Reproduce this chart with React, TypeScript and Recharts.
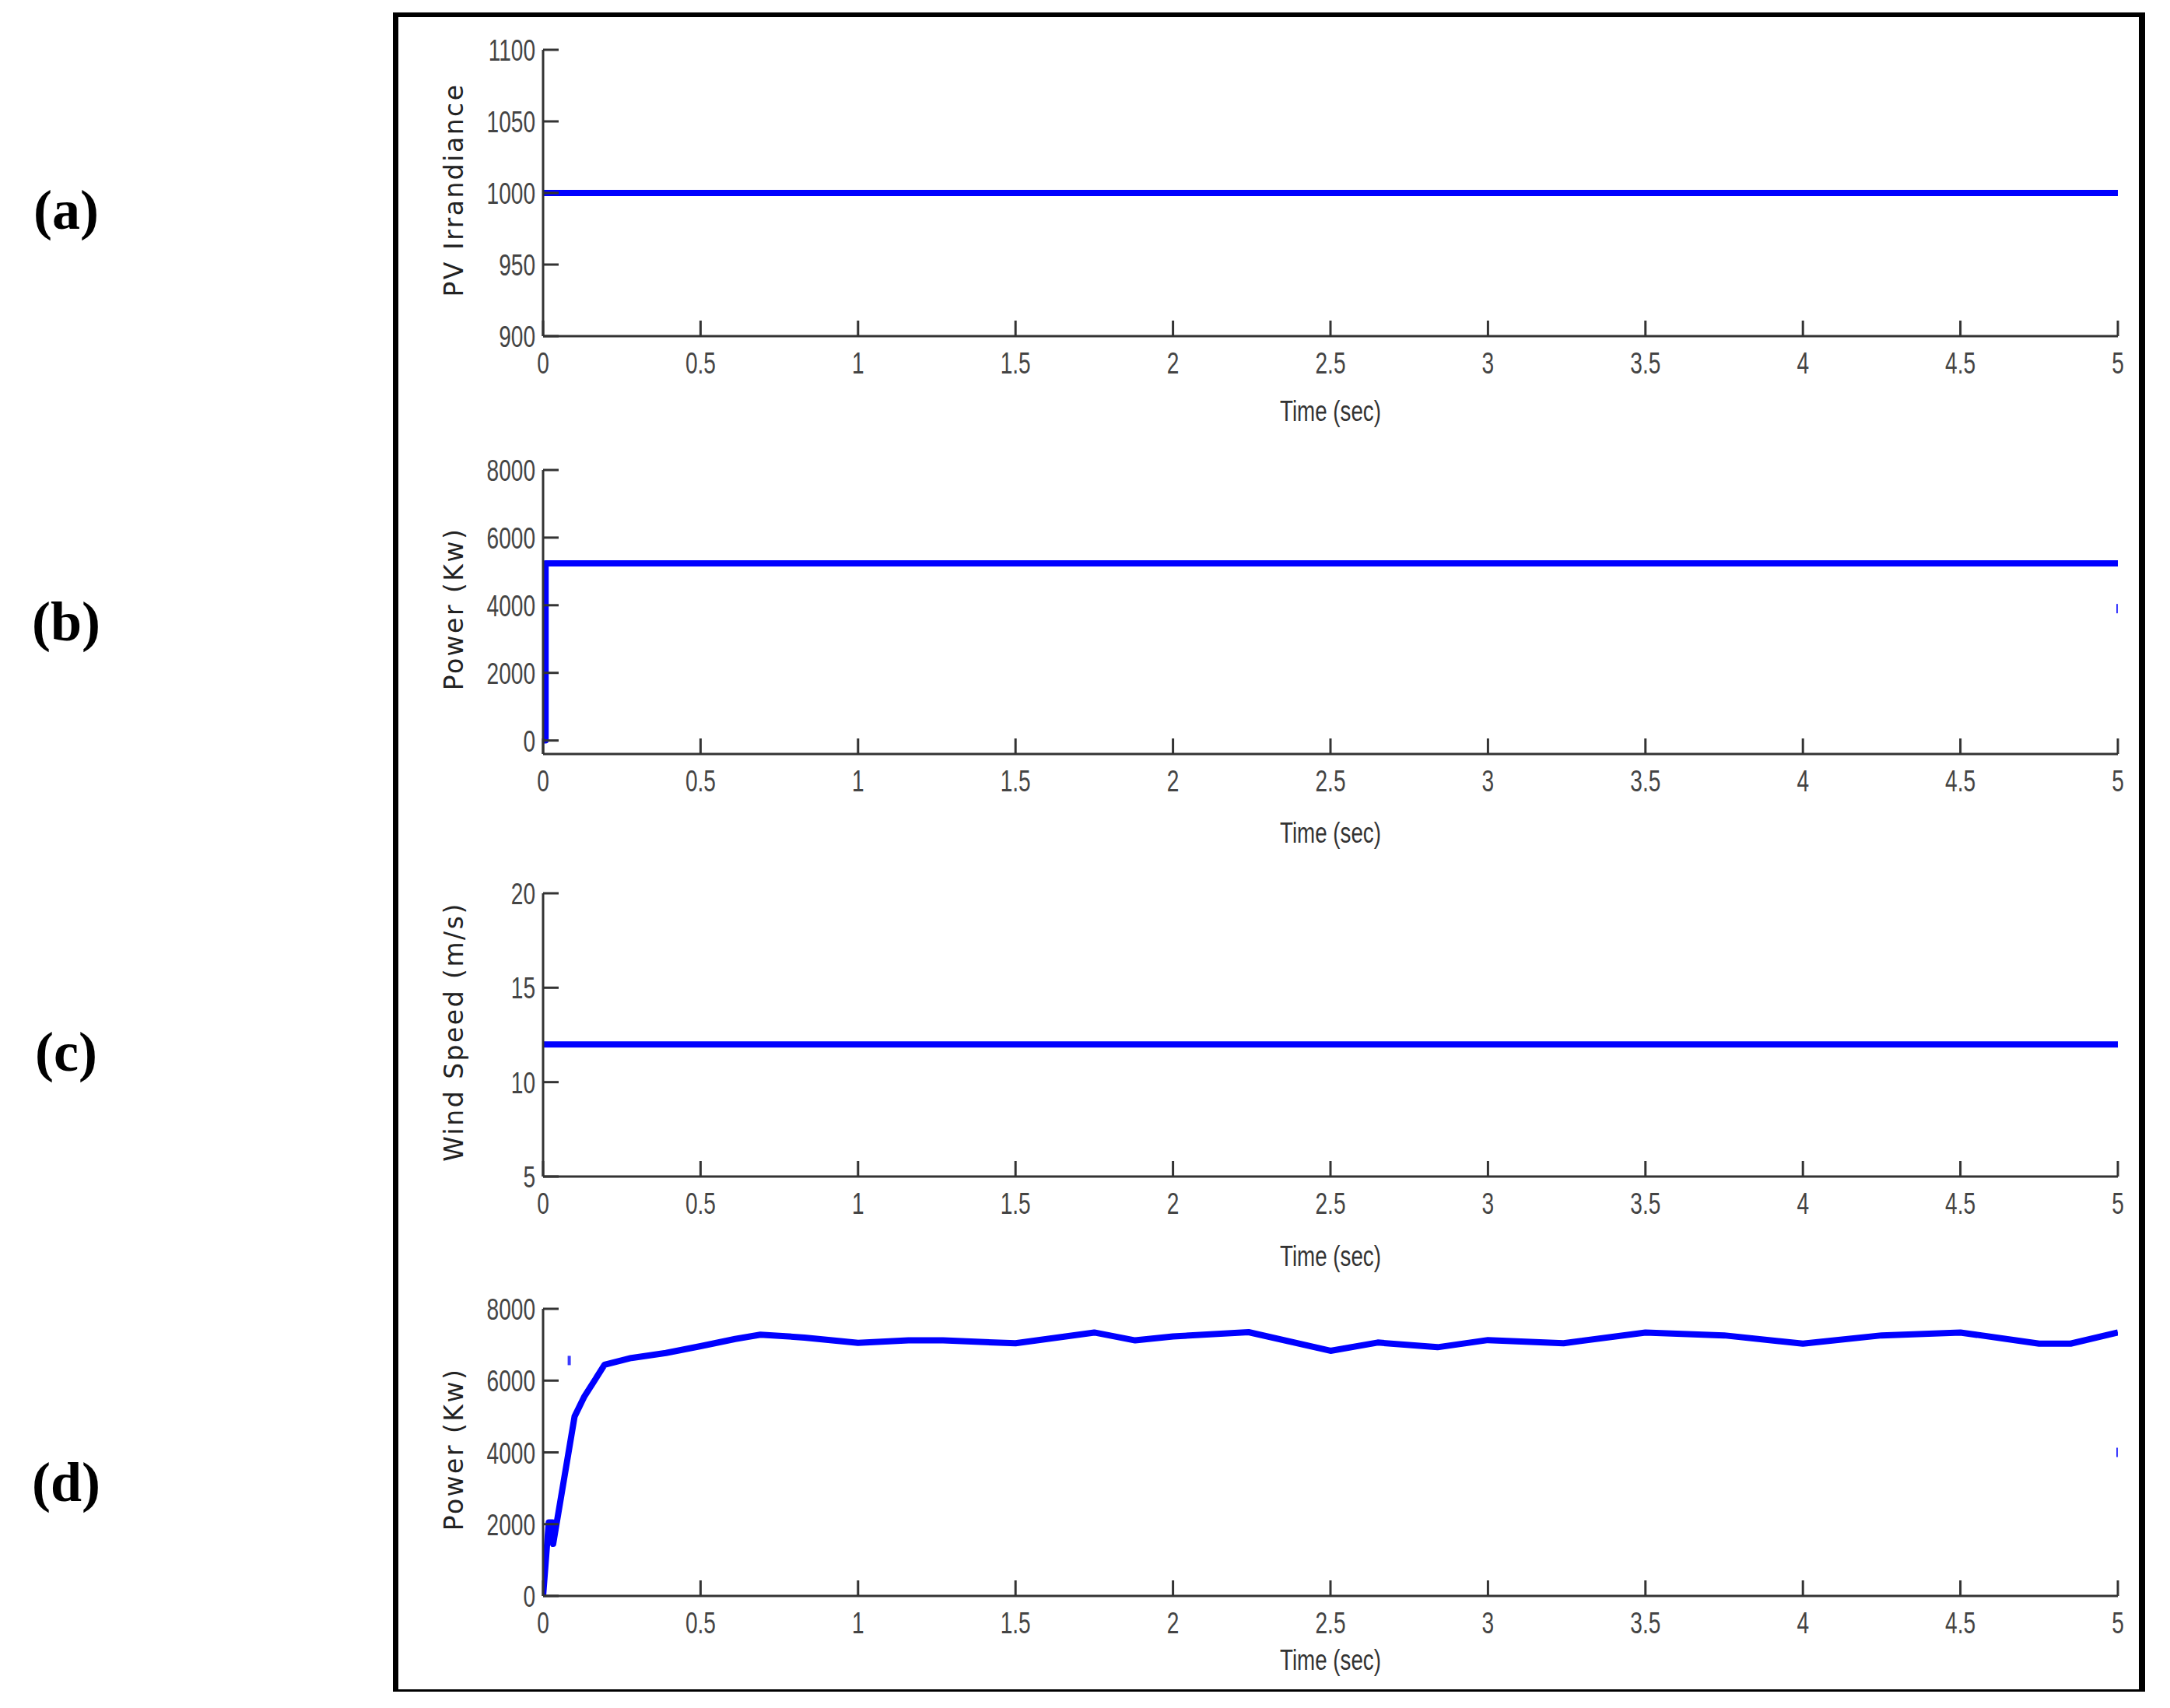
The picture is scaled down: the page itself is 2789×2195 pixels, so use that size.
import { ComposedChart, Line, Scatter, XAxis, YAxis, Label } from "recharts";

// time axis shared by all four panels
const TIME_TICKS = [0, 0.5, 1, 1.5, 2, 2.5, 3, 3.5, 4, 4.5, 5];

// (a) PV irradiance
const irradianceData = [
  { t: 0, v: 1000 },
  { t: 5, v: 1000 },
];
const irradianceTicks = [900, 950, 1000, 1050, 1100];

// (b) PV power
const pvPowerData = [
  { t: 0, v: 0 },
  { t: 0.008, v: 0 },
  { t: 0.008, v: 5240 },
  { t: 5, v: 5240 },
];
const pvPowerStray = [{ t: 5, v: 3900 }];
const powerTicks = [0, 2000, 4000, 6000, 8000];

// (c) wind speed
const windSpeedData = [
  { t: 0, v: 12 },
  { t: 5, v: 12 },
];
const windSpeedTicks = [5, 10, 15, 20];

// (d) wind power
const windTime = [
  0, 0.018, 0.03, 0.032, 0.1, 0.13, 0.195, 0.28, 0.39, 0.5, 0.61, 0.69, 0.83, 1.0, 1.16, 1.27,
  1.5, 1.75, 1.88, 2.0, 2.24, 2.5, 2.65, 2.84, 3.0, 3.24, 3.5, 3.75, 4.0, 4.25, 4.5, 4.75, 4.85, 5.0,
];
const windPower = [
  0, 2050, 2050, 1450, 5000, 5540, 6440, 6630, 6770, 6960, 7160, 7280, 7200, 7050, 7120, 7120,
  7040, 7340, 7120, 7230, 7350, 6830, 7060, 6930, 7130, 7040, 7340, 7260, 7030, 7260, 7340, 7030,
  7030, 7340,
];
const windPowerData = windTime.map((t, i) => ({ t, v: windPower[i] }));
const windPowerStray = [
  { t: 0.083, v: 6560 },
  { t: 5, v: 4000 },
];

const BLUE = "#0000ff";
const TICK_LEN = 20;
const NUM_FONT = "'Liberation Sans', Arial, sans-serif";

const PLOT_LEFT = 698;
const PLOT_RIGHT = 2722;
const CHART_LEFT = 520;
const Y_AXIS_W = 150;
const M_LEFT = PLOT_LEFT - CHART_LEFT - Y_AXIS_W;
const M_RIGHT = 40;
const M_TOP = 30;
const X_AXIS_H = 130;
const M_BOTTOM = 5;

const XTick = (props: any) => {
  const { x, y, payload } = props;
  return (
    <g>
      <line x1={x} x2={x} y1={y} y2={y - TICK_LEN} stroke="#333" strokeWidth={3} />
      <text
        transform={`translate(${x},${y + 48}) scale(0.72,1)`}
        textAnchor="middle"
        fontSize={39}
        fontFamily={NUM_FONT}
        fill="#444"
      >
        {payload.value}
      </text>
    </g>
  );
};

const YTick = (props: any) => {
  const { x, y, payload } = props;
  return (
    <g>
      <line x1={x} x2={x + TICK_LEN} y1={y} y2={y} stroke="#333" strokeWidth={3} />
      <text
        transform={`translate(${x - 10},${y + 14}) scale(0.72,1)`}
        textAnchor="end"
        fontSize={39}
        fontFamily={NUM_FONT}
        fill="#444"
      >
        {payload.value}
      </text>
    </g>
  );
};

const timeLabel = (offset: number) => (props: any) => {
  const { viewBox } = props;
  const cx = viewBox.x + viewBox.width / 2;
  const cy = viewBox.y + offset;
  return (
    <text
      transform={`translate(${cx},${cy + 12}) scale(0.75,1)`}
      textAnchor="middle"
      fontSize={37}
      fontFamily={NUM_FONT}
      fill="#333"
    >
      Time (sec)
    </text>
  );
};

const yLabel = (text: string) => (props: any) => {
  const { viewBox } = props;
  const cx = viewBox.x + viewBox.width - 115;
  const cy = viewBox.y + viewBox.height / 2 - 4;
  return (
    <text
      transform={`translate(${cx},${cy}) rotate(-90)`}
      textAnchor="middle"
      dominantBaseline="central"
      fontSize={33}
      letterSpacing={2.5}
      fontFamily="'DejaVu Sans', sans-serif"
      fill="#222"
    >
      {text}
    </text>
  );
};

const StrayMark = (props: any) => (
  <rect x={props.cx - 2} y={props.cy - 6} width={4} height={12} fill="#3a3aff" />
);

interface PanelProps {
  top: number;
  bottom: number;
  data: { t: number; v: number }[];
  domain: [number, number];
  ticks: number[];
  label: string;
  timeOffset: number;
  stray?: { t: number; v: number }[];
}

const Panel = ({ top, bottom, data, domain, ticks, label, timeOffset, stray }: PanelProps) => {
  const plotH = bottom - top;
  const width = M_LEFT + Y_AXIS_W + (PLOT_RIGHT - PLOT_LEFT) + M_RIGHT;
  const height = M_TOP + plotH + X_AXIS_H + M_BOTTOM;
  return (
    <div style={{ position: "absolute", left: CHART_LEFT, top: top - M_TOP }}>
      <ComposedChart
        width={width}
        height={height}
        data={data}
        margin={{ top: M_TOP, right: M_RIGHT, bottom: M_BOTTOM, left: M_LEFT }}
      >
        <XAxis
          dataKey="t"
          type="number"
          domain={[0, 5]}
          ticks={TIME_TICKS}
          height={X_AXIS_H}
          tickSize={0}
          tickMargin={0}
          tickLine={false}
          tick={<XTick />}
          axisLine={{ stroke: "#333", strokeWidth: 3 }}
          allowDataOverflow
        >
          <Label content={timeLabel(timeOffset)} />
        </XAxis>
        <XAxis
          xAxisId="top"
          orientation="top"
          type="number"
          domain={[0, 5]}
          height={0}
          tick={false}
          tickLine={false}
          axisLine={{ stroke: "#777", strokeWidth: 3 }}
        />
        <YAxis
          type="number"
          domain={domain}
          ticks={ticks}
          width={Y_AXIS_W}
          tickSize={0}
          tickMargin={0}
          tickLine={false}
          tick={<YTick />}
          axisLine={{ stroke: "#333", strokeWidth: 3 }}
          allowDataOverflow
        >
          <Label content={yLabel(label)} />
        </YAxis>
        <YAxis
          yAxisId="right"
          orientation="right"
          type="number"
          domain={domain}
          width={0}
          tick={false}
          tickLine={false}
          axisLine={{ stroke: "#777", strokeWidth: 3 }}
        />
        <Line
          type="linear"
          dataKey="v"
          stroke={BLUE}
          strokeWidth={8}
          strokeLinejoin="round"
          dot={false}
          isAnimationActive={false}
        />
        {stray && (
          <Scatter data={stray} dataKey="v" shape={<StrayMark />} isAnimationActive={false} />
        )}
      </ComposedChart>
    </div>
  );
};

const panelLetter = (text: string, cy: number) => (
  <div
    style={{
      position: "absolute",
      left: 35,
      top: cy - 45,
      width: 100,
      height: 90,
      lineHeight: "90px",
      textAlign: "center",
      fontFamily: "'Liberation Serif', 'Times New Roman', serif",
      fontWeight: "bold",
      fontSize: 72,
      color: "#000",
    }}
  >
    {text}
  </div>
);

export default function App() {
  return (
    <div
      style={{
        position: "absolute",
        left: 0,
        top: 0,
        width: 2789,
        height: 2195,
        background: "#fff",
        overflow: "hidden",
      }}
    >
      <div
        style={{
          position: "absolute",
          left: 505,
          top: 16,
          width: 2757 - 505,
          height: 2174 - 16,
          boxSizing: "border-box",
          borderLeft: "7px solid #000",
          borderTop: "6px solid #000",
          borderRight: "8px solid #000",
          borderBottom: "3px solid #000",
        }}
      />
      {panelLetter("(a)", 270)}
      {panelLetter("(b)", 799)}
      {panelLetter("(c)", 1352)}
      {panelLetter("(d)", 1905)}
      <Panel
        top={64}
        bottom={432}
        data={irradianceData}
        domain={[900, 1100]}
        ticks={irradianceTicks}
        label="PV Irrandiance"
        timeOffset={97}
      />
      <Panel
        top={604}
        bottom={969}
        data={pvPowerData}
        domain={[-400, 8000]}
        ticks={powerTicks}
        label="Power (Kw)"
        timeOffset={102}
        stray={pvPowerStray}
      />
      <Panel
        top={1148}
        bottom={1512}
        data={windSpeedData}
        domain={[5, 20]}
        ticks={windSpeedTicks}
        label="Wind Speed (m/s)"
        timeOffset={103}
      />
      <Panel
        top={1682}
        bottom={2051}
        data={windPowerData}
        domain={[0, 8000]}
        ticks={powerTicks}
        label="Power (Kw)"
        timeOffset={83}
        stray={windPowerStray}
      />
    </div>
  );
}
